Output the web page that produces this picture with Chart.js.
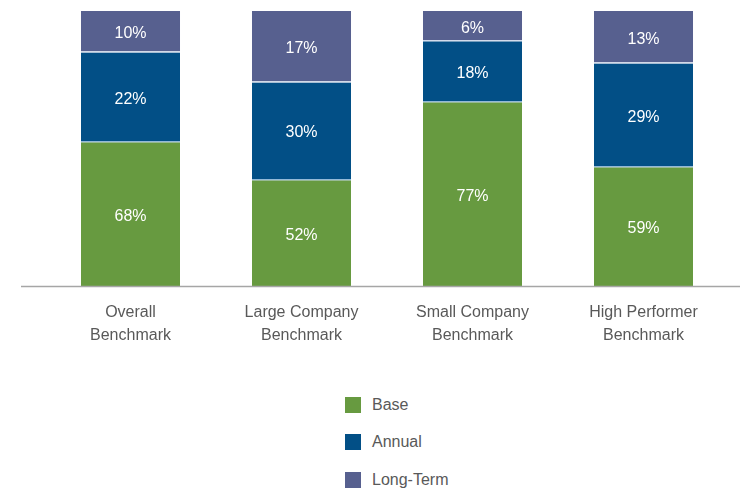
<!DOCTYPE html>
<html>
<head>
<meta charset="utf-8">
<script src="https://cdn.jsdelivr.net/npm/chart.js@4.4.1/dist/chart.umd.min.js"></script>
<style>
    html, body { margin: 0; padding: 0; background: #fff; }
    #wrap { position: relative; width: 740px; height: 489px; overflow: hidden; }
    #chartBox { position: absolute; left: 0; top: 0; width: 740px; height: 361px; }
    #legend { position: absolute; left: 345px; top: 386px; margin: 0; padding: 0; list-style: none;
        font-family: "Liberation Sans", Arial, sans-serif; font-size: 16px; color: #595959; }
    #legend li { display: flex; align-items: center; height: 37.5px; }
    #legend span.box { display: inline-block; width: 16px; height: 16px; margin-right: 11px; }
</style>
</head>
<body>
<div id="wrap">
    <div id="chartBox"><canvas id="mainChart"></canvas></div>
    <ul id="legend"></ul>
</div>
<script>
// Categories (two-line tick labels)
const categories = [
    ['Overall', 'Benchmark'],
    ['Large Company', 'Benchmark'],
    ['Small Company', 'Benchmark'],
    ['High Performer', 'Benchmark']
];

// Segment heights as drawn (share of the bar, %)
const baseHeights = [52.7, 38.9, 67.3, 43.6];
const annualHeights = [32.7, 35.6, 22.2, 37.8];
const longTermHeights = [14.6, 25.5, 10.5, 18.6];

// Printed percentage labels
const baseLabels = ['68%', '52%', '77%', '59%'];
const annualLabels = ['22%', '30%', '18%', '29%'];
const longTermLabels = ['10%', '17%', '6%', '13%'];

const FONT = '"Liberation Sans", Arial, sans-serif';

// Draw the printed value in the middle of each segment
const segmentLabels = {
    id: 'segmentLabels',
    afterDatasetsDraw(chart) {
        const ctx = chart.ctx;
        ctx.save();
        ctx.font = '16px ' + FONT;
        ctx.fillStyle = '#ffffff';
        ctx.textAlign = 'center';
        ctx.textBaseline = 'middle';
        chart.data.datasets.forEach((ds, i) => {
            const meta = chart.getDatasetMeta(i);
            meta.data.forEach((bar, j) => {
                const y = (bar.y + bar.base) / 2;
                ctx.fillText(ds.valueLabels[j], bar.x, y + 3);
            });
        });
        ctx.restore();
    }
};

// Baseline that runs past the plot area like the original
const baseLine = {
    id: 'baseLine',
    afterDatasetsDraw(chart) {
        const ctx = chart.ctx;
        const y = chart.scales.y.getPixelForValue(0);
        ctx.save();
        ctx.strokeStyle = '#a6a6a6';
        ctx.lineWidth = 1.5;
        ctx.beginPath();
        ctx.moveTo(21, y + 0.5);
        ctx.lineTo(chart.width, y + 0.5);
        ctx.stroke();
        ctx.restore();
    }
};

const ctx = document.getElementById('mainChart');
const mainChart = new Chart(ctx, {
    type: 'bar',
    data: {
        labels: categories,
        datasets: [
            {
                label: 'Base',
                data: baseHeights,
                valueLabels: baseLabels,
                backgroundColor: '#679a40',
                borderColor: '#93b9d8',
                borderWidth: { top: 1.5, right: 0, bottom: 0, left: 0 },
                borderSkipped: false
            },
            {
                label: 'Annual',
                data: annualHeights,
                valueLabels: annualLabels,
                backgroundColor: '#024f86',
                borderColor: '#d3dcec',
                borderWidth: { top: 1.5, right: 0, bottom: 0, left: 0 },
                borderSkipped: false
            },
            {
                label: 'Long-Term',
                data: longTermHeights,
                valueLabels: longTermLabels,
                backgroundColor: '#57608f',
                borderWidth: 0
            }
        ]
    },
    options: {
        responsive: true,
        maintainAspectRatio: false,
        animation: false,
        layout: {
            padding: { top: 11, left: 45, right: 11, bottom: 0 }
        },
        datasets: {
            bar: {
                categoryPercentage: 1,
                barPercentage: 0.579
            }
        },
        plugins: {
            legend: { display: false },
            tooltip: { enabled: false }
        },
        scales: {
            x: {
                stacked: true,
                grid: { display: false, drawTicks: false },
                border: { display: false },
                ticks: {
                    padding: 15,
                    color: '#595959',
                    font: { family: FONT, size: 16, lineHeight: 1.44 },
                    maxRotation: 0
                },
                afterFit(scale) {
                    scale.height = 75;
                }
            },
            y: {
                stacked: true,
                display: false,
                min: 0,
                max: 100
            }
        }
    },
    plugins: [segmentLabels, baseLine]
});

// HTML legend in a single column, built from the chart's datasets
const legendEl = document.getElementById('legend');
mainChart.data.datasets.forEach(ds => {
    const li = document.createElement('li');
    const box = document.createElement('span');
    box.className = 'box';
    box.style.background = ds.backgroundColor;
    li.appendChild(box);
    li.appendChild(document.createTextNode(ds.label));
    legendEl.appendChild(li);
});
</script>
</body>
</html>
